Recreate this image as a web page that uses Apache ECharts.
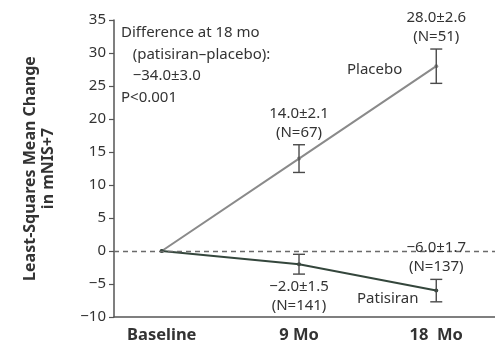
<!DOCTYPE html>
<html>
<head>
<meta charset="utf-8">
<style>
  html, body { margin: 0; padding: 0; background: #ffffff; overflow: hidden; }
  #chart { width: 495px; height: 349px; }
</style>
<script src="https://cdn.jsdelivr.net/npm/echarts@6/dist/echarts.min.js"></script>
</head>
<body>
<div id="chart"></div>
<script>
// Time points and least-squares mean change in mNIS+7
var categories = ['Baseline', '9 Mo', '18  Mo'];
var placeboMean = [0, 14.0, 28.0];
var placeboSE = [null, 2.1, 2.6];
var placeboN = [null, 67, 51];
var patisiranMean = [0, -2.0, -6.0];
var patisiranSE = [null, 1.5, 1.7];
var patisiranN = [null, 141, 137];

var FONT = '"Noto Sans", "Open Sans", sans-serif';
var TEXT = '#333333';

function fmt(v) {
  return v.toFixed(1).replace('-', '\u2212');
}

function pairs(values) {
  return values.map(function (v, i) { return [i, v]; });
}

// Error bars with their value/N captions; side: 'above' or 'below' per point
function errorSeries(means, ses, ns, sides) {
  var data = [];
  means.forEach(function (m, i) {
    if (ses[i] != null) data.push([i, m, ses[i], ns[i], sides[i] === 'above' ? 1 : 0]);
  });
  return {
    type: 'custom',
    silent: true,
    z: 5,
    clip: false,
    data: data,
    renderItem: function (params, api) {
      var x = api.value(0), m = api.value(1), se = api.value(2);
      var n = api.value(3), above = api.value(4) === 1;
      var top = api.coord([x, m + se]);
      var bot = api.coord([x, m - se]);
      var cap = 6;
      var stroke = { stroke: '#4a4a4a', lineWidth: 1.4 };
      var label = fmt(m) + '\u00b1' + se.toFixed(1) + '\n(N=' + n + ')';
      return {
        type: 'group',
        children: [
          { type: 'line', shape: { x1: top[0], y1: top[1], x2: bot[0], y2: bot[1] }, style: stroke },
          { type: 'line', shape: { x1: top[0] - cap, y1: top[1], x2: top[0] + cap, y2: top[1] }, style: stroke },
          { type: 'line', shape: { x1: bot[0] - cap, y1: bot[1], x2: bot[0] + cap, y2: bot[1] }, style: stroke },
          {
            type: 'text',
            style: {
              x: top[0],
              y: above ? top[1] - 3 : bot[1] + 3,
              text: label,
              align: 'center',
              verticalAlign: above ? 'bottom' : 'top',
              fill: TEXT,
              font: '15px ' + FONT,
              lineHeight: 19
            }
          }
        ]
      };
    }
  };
}

var chart = echarts.init(document.getElementById('chart'));
chart.setOption({
  animation: false,
  backgroundColor: '#ffffff',
  grid: { left: 114, top: 20, right: -2, bottom: 32 },
  xAxis: {
    type: 'value',
    min: -0.348,
    max: 2.428,
    splitLine: { show: false },
    axisLine: { onZero: false, lineStyle: { color: '#555555', width: 1.5 } },
    axisTick: { show: false },
    axisLabel: {
      customValues: [0, 1, 2],
      formatter: function (v) { return categories[Math.round(v)]; },
      color: TEXT,
      fontFamily: FONT,
      fontWeight: 'bold',
      fontSize: 16.5,
      margin: 10
    }
  },
  yAxis: {
    type: 'value',
    min: -10,
    max: 35,
    interval: 5,
    splitLine: { show: false },
    axisLine: { show: true, onZero: false, lineStyle: { color: '#555555', width: 1.5 } },
    axisTick: { show: true, length: 5, lineStyle: { color: '#555555', width: 1.2 } },
    axisLabel: {
      formatter: function (v) { return String(v).replace('-', '\u2212'); },
      color: TEXT,
      fontFamily: FONT,
      fontSize: 15,
      margin: 8
    },
    name: 'Least-Squares Mean Change\nin mNIS+7',
    nameLocation: 'middle',
    nameGap: 57,
    nameTextStyle: {
      color: TEXT,
      fontFamily: FONT,
      fontWeight: 'bold',
      fontSize: 16,
      lineHeight: 18
    }
  },
  series: [
    {
      name: 'Placebo',
      type: 'line',
      data: pairs(placeboMean),
      symbol: 'circle',
      symbolSize: 4,
      itemStyle: { color: '#8a8a8a' },
      lineStyle: { color: '#8a8a8a', width: 2 },
      z: 3,
      markLine: {
        silent: true,
        symbol: 'none',
        label: { show: false },
        lineStyle: { color: '#6a6a6a', type: [5, 4], width: 1.3 },
        data: [{ yAxis: 0 }]
      }
    },
    {
      name: 'Patisiran',
      type: 'line',
      data: pairs(patisiranMean),
      symbol: 'circle',
      symbolSize: 4,
      itemStyle: { color: '#34463c' },
      lineStyle: { color: '#34463c', width: 2 },
      z: 4
    },
    errorSeries(placeboMean, placeboSE, placeboN, [null, 'above', 'above']),
    errorSeries(patisiranMean, patisiranSE, patisiranN, [null, 'below', 'above'])
  ],
  graphic: [
    {
      // keep the right margin of the plot clean
      type: 'rect',
      z: 100,
      shape: { x: 490, y: 10, width: 10, height: 236 },
      style: { fill: '#ffffff' }
    },
    {
      type: 'rect',
      z: 100,
      shape: { x: 490, y: 256, width: 10, height: 58 },
      style: { fill: '#ffffff' }
    },
    {
      type: 'text',
      left: 121,
      top: 22,
      style: {
        text: 'Difference at 18 mo\n   (patisiran\u2013placebo):\n   \u221234.0\u00b13.0\nP<0.001',
        fill: TEXT,
        font: '15px ' + FONT,
        lineHeight: 21.5
      }
    },
    {
      type: 'text',
      left: 347,
      top: 62,
      style: { text: 'Placebo', fill: TEXT, font: '15px ' + FONT }
    },
    {
      type: 'text',
      left: 357,
      top: 291,
      style: { text: 'Patisiran', fill: TEXT, font: '15px ' + FONT }
    }
  ]
});
</script>
</body>
</html>
